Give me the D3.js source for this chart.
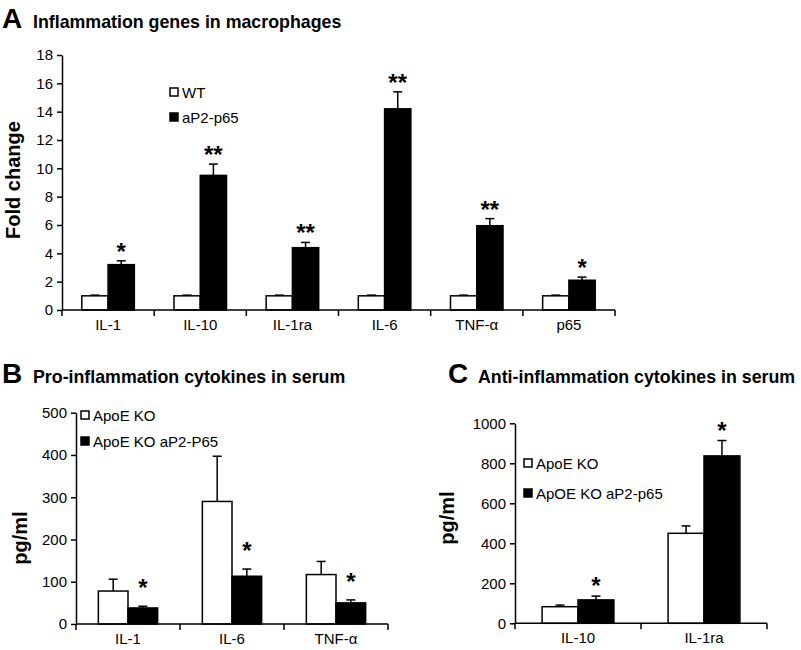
<!DOCTYPE html>
<html>
<head>
<meta charset="utf-8">
<script src="https://cdn.jsdelivr.net/npm/d3@7"></script>
<style>
  body { margin: 0; background: #fff; }
  svg text { font-family: "Liberation Sans", Arial, sans-serif; fill: #000; }
</style>
</head>
<body>
<div id="chart"></div>
<script>
// panel A
var aGenes = ["IL-1", "IL-10", "IL-1ra", "IL-6", "TNF-\u03b1", "p65"];
var aWT = [1, 1, 1, 1, 1, 1];
var aWTErr = [0.05, 0.05, 0.05, 0.05, 0.05, 0.05];
var aP65 = [3.2, 9.5, 4.4, 14.2, 5.95, 2.1];
var aP65Err = [0.27, 0.8, 0.37, 1.2, 0.5, 0.22];
var aStars = ["*", "**", "**", "**", "**", "*"];
var aTicks = [0, 2, 4, 6, 8, 10, 12, 14, 16, 18];

// panel B
var bCytokines = ["IL-1", "IL-6", "TNF-\u03b1"];
var bKO = [78, 290, 117];
var bKOErr = [28, 107, 31];
var bP65 = [38, 113, 50];
var bP65Err = [4, 17, 7];
var bStars = ["*", "*", "*"];
var bTicks = [0, 100, 200, 300, 400, 500];

// panel C
var cCytokines = ["IL-10", "IL-1ra"];
var cKO = [83, 450];
var cKOErr = [8, 37];
var cP65 = [117, 837];
var cP65Err = [19, 77];
var cStars = ["*", "*"];
var cTicks = [0, 200, 400, 600, 800, 1000];

var width = 801, height = 650;

var svg = d3.select("#chart")
  .append("svg")
  .attr("width", width)
  .attr("height", height);

svg.append("rect")
  .attr("width", "100%")
  .attr("height", "100%")
  .attr("fill", "white");

function panel(o) {
  var g = svg.append("g");

  var x = d3.scaleBand()
    .domain(o.cats)
    .range([o.left, o.right]);
  var bw = x.bandwidth();
  var groupW = bw * 0.57;

  // two bars per group, side by side
  var x1 = d3.scaleBand()
    .domain([0, 1])
    .range([(bw - groupW) / 2, (bw + groupW) / 2]);

  var y = d3.scaleLinear()
    .domain([0, o.max])
    .range([o.bottom, o.top]);

  // title letter + title
  g.append("text")
    .attr("x", o.letterX).attr("y", o.titleY)
    .style("font-size", "28px").style("font-weight", "bold")
    .text(o.letter);
  g.append("text")
    .attr("x", o.titleX).attr("y", o.titleY)
    .style("font-size", "17.8px").style("font-weight", "bold")
    .text(o.title);

  // y axis
  var yAxis = d3.axisLeft(y)
    .tickValues(o.ticks)
    .tickFormat(d3.format("d"))
    .tickSize(5)
    .tickSizeOuter(0)
    .tickPadding(4);
  var ya = g.append("g")
    .attr("transform", "translate(" + o.left + ",0)")
    .call(yAxis);
  ya.select(".domain").attr("stroke-width", 1.5);
  ya.selectAll(".tick line").attr("stroke-width", 1.5);
  ya.selectAll(".tick text")
    .style("font-size", "15px")
    .style("font-family", "Liberation Sans, Arial, sans-serif");

  // y label
  g.append("text")
    .attr("transform", "translate(" + o.ylabX + "," + o.ylabY + ") rotate(-90)")
    .attr("text-anchor", "middle")
    .style("font-size", "20px").style("font-weight", "bold")
    .text(o.ylab);

  // bars
  var series = [
    { vals: o.s1, errs: o.e1, fill: "#fff" },
    { vals: o.s2, errs: o.e2, fill: "#000" }
  ];
  var cap = 9;
  series.forEach(function(s, si) {
    o.cats.forEach(function(c, i) {
      var bx = x(c) + x1(si);
      var cx = bx + x1.bandwidth() / 2;
      var errTop = y(s.vals[i] + s.errs[i]);
      g.append("line")
        .attr("x1", cx).attr("x2", cx)
        .attr("y1", y(s.vals[i])).attr("y2", errTop)
        .attr("stroke", "#000").attr("stroke-width", 1.5);
      g.append("line")
        .attr("x1", cx - cap / 2).attr("x2", cx + cap / 2)
        .attr("y1", errTop).attr("y2", errTop)
        .attr("stroke", "#000").attr("stroke-width", 1.5);
      g.append("rect")
        .attr("x", bx)
        .attr("y", y(s.vals[i]))
        .attr("width", x1.bandwidth())
        .attr("height", y(0) - y(s.vals[i]))
        .attr("fill", s.fill)
        .attr("stroke", "#000")
        .attr("stroke-width", 1.5);
    });
  });

  // significance stars over the second series
  o.cats.forEach(function(c, i) {
    var cx = x(c) + x1(1) + x1.bandwidth() / 2;
    var errTop = y(o.s2[i] + o.e2[i]);
    g.append("text")
      .attr("x", cx)
      .attr("y", errTop - o.starGap + 12)
      .attr("text-anchor", "middle")
      .style("font-size", "24px").style("font-weight", "bold")
      .text(o.stars[i]);
  });

  // x axis: baseline with ticks at group boundaries
  g.append("line")
    .attr("x1", o.left).attr("x2", o.right)
    .attr("y1", o.bottom).attr("y2", o.bottom)
    .attr("stroke", "#000").attr("stroke-width", 1.5);
  var bounds = o.cats.map(function(c) { return x(c); }).concat([o.right]);
  g.selectAll(null)
    .data(bounds)
    .enter()
    .append("line")
    .attr("x1", function(d) { return d; })
    .attr("x2", function(d) { return d; })
    .attr("y1", o.bottom).attr("y2", o.bottom + 6)
    .attr("stroke", "#000").attr("stroke-width", 1.5);

  var xAxis = d3.axisBottom(x).tickSize(0).tickPadding(9);
  var xa = g.append("g")
    .attr("transform", "translate(0," + o.bottom + ")")
    .call(xAxis);
  xa.select(".domain").remove();
  xa.selectAll(".tick text")
    .style("font-size", "15px")
    .style("font-family", "Liberation Sans, Arial, sans-serif");

  // legend
  o.legend.forEach(function(lbl, i) {
    var ly = o.legY + i * o.legStep;
    g.append("rect")
      .attr("x", o.legX).attr("y", ly - 4)
      .attr("width", 8).attr("height", 8)
      .attr("fill", i == 0 ? "#fff" : "#000")
      .attr("stroke", "#000").attr("stroke-width", 1.5);
    g.append("text")
      .attr("x", o.legX + 12).attr("y", ly + 5.5)
      .style("font-size", "15px")
      .text(lbl);
  });
}

panel({
  cats: aGenes, s1: aWT, e1: aWTErr, s2: aP65, e2: aP65Err, stars: aStars,
  ticks: aTicks, max: 18,
  left: 62, right: 615, top: 55, bottom: 310,
  letter: "A", title: "Inflammation genes in macrophages",
  letterX: 2, titleX: 33, titleY: 28,
  ylab: "Fold change", ylabX: 20, ylabY: 180,
  starGap: 13,
  legend: ["WT", "aP2-p65"], legX: 170, legY: 92, legStep: 25
});

panel({
  cats: bCytokines, s1: bKO, e1: bKOErr, s2: bP65, e2: bP65Err, stars: bStars,
  ticks: bTicks, max: 500,
  left: 76, right: 388, top: 412.7, bottom: 624,
  letter: "B", title: "Pro-inflammation cytokines in serum",
  letterX: 2, titleX: 33, titleY: 383,
  ylab: "pg/ml", ylabX: 27, ylabY: 538,
  starGap: 22,
  legend: ["ApoE KO", "ApoE KO aP2-P65"], legX: 81, legY: 415, legStep: 26
});

panel({
  cats: cCytokines, s1: cKO, e1: cKOErr, s2: cP65, e2: cP65Err, stars: cStars,
  ticks: cTicks, max: 1000,
  left: 515, right: 767, top: 423.3, bottom: 623.3,
  letter: "C", title: "Anti-inflammation cytokines in serum",
  letterX: 448, titleX: 478, titleY: 383,
  ylab: "pg/ml", ylabX: 454, ylabY: 518,
  starGap: 14,
  legend: ["ApoE KO", "ApOE KO aP2-p65"], legX: 524, legY: 463, legStep: 30
});
</script>
</body>
</html>
